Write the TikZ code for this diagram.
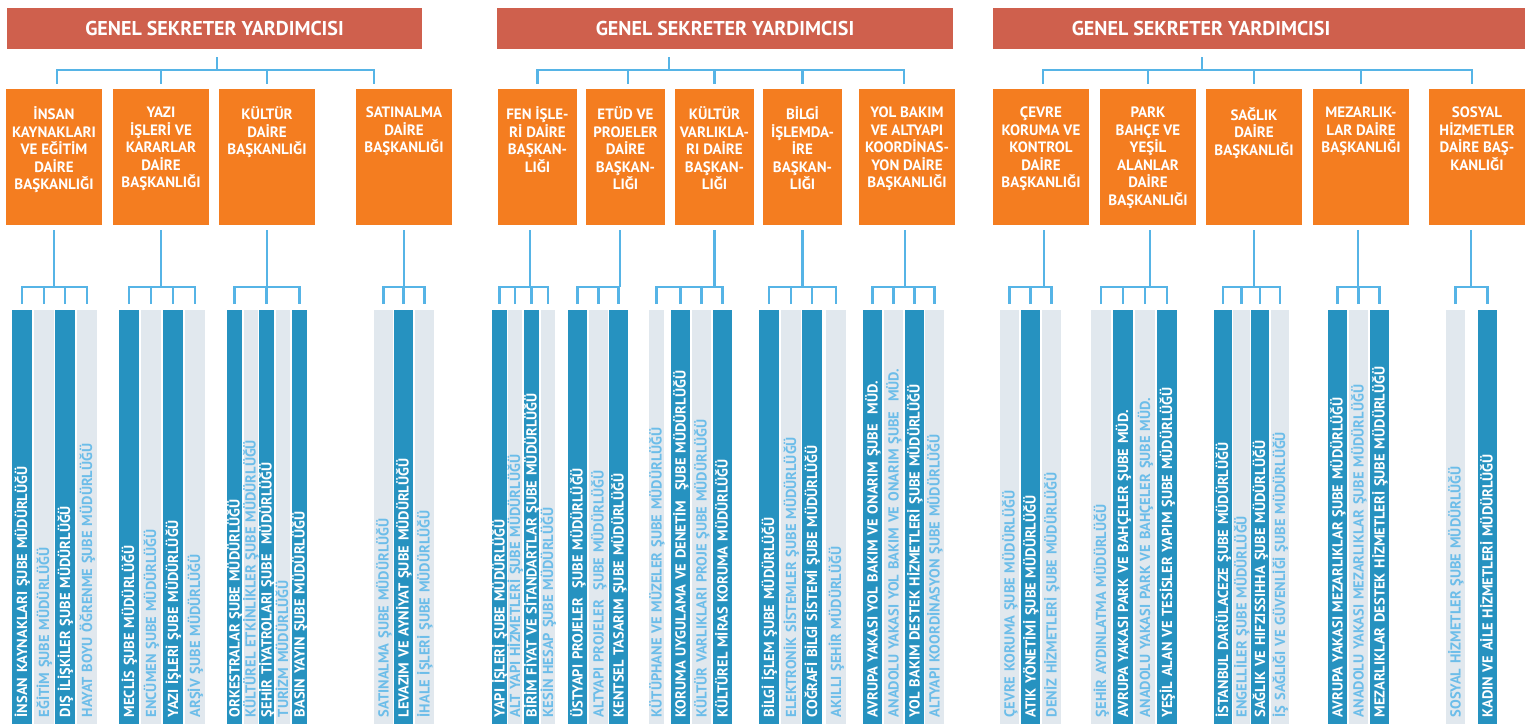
\documentclass[tikz,border=0pt]{standalone}
\usepackage{fontspec}
\setmainfont{PT Sans}
\usetikzlibrary{positioning}

\definecolor{gsykirmizi}{RGB}{207,96,77}
\definecolor{daireturuncu}{RGB}{244,125,32}
\definecolor{cizgimavi}{RGB}{86,180,230}
\definecolor{koyumavi}{RGB}{38,146,192}
\definecolor{acikgri}{RGB}{225,232,238}
\definecolor{acikyazi}{RGB}{108,189,233}

\begin{document}
\begin{tikzpicture}[x=1pt,y=-1pt,
    gsy/.style={fill=gsykirmizi,text=white,minimum height=41pt,inner sep=0pt,
        font=\bfseries\fontsize{20}{22}\selectfont},
    daire/.style={fill=daireturuncu,minimum width=96pt,minimum height=136pt,inner sep=0pt},
    dyazi/.style={text=white,align=center,inner sep=0pt,
        font=\bfseries\fontsize{15}{17.5}\selectfont,
        execute at begin node=\rule{0pt}{13pt}},
    sube/.style={rotate=90,anchor=east,minimum height=20pt,text width=400pt,align=left,
        inner xsep=7pt,inner ysep=0pt,text height=10.2pt,text depth=0pt,
        font=\bfseries\fontsize{14.5}{15}\selectfont},
    koyu/.style={sube,fill=koyumavi,text=white},
    acik/.style={sube,fill=acikgri,text=acikyazi},
    baglanti/.style={draw=cizgimavi,line width=2.5pt}]
\useasboundingbox (0,0) rectangle (1533,724);

% genel sekreter yardimcilari
\node[gsy,minimum width=415pt] (gsy1) at (214.5,28.5) {GENEL SEKRETER YARDIMCISI};
\node[gsy,minimum width=456pt] (gsy2) at (725,28.5) {GENEL SEKRETER YARDIMCISI};
\node[gsy,minimum width=532pt] (gsy3) at (1259,28.5) {};
\node[gsy,fill=none] (gsy3-t) at ([xshift=-58pt]gsy3.center) {GENEL SEKRETER YARDIMCISI};

% daire baskanliklari
\node[daire] (ik) at (54,157) {};
\node[daire] (yazi) at (161,157) {};
\node[daire] (kultur) at (267,157) {};
\node[daire] (sat) at (404,157) {};
\node[daire,minimum width=79pt] (fen) at (537.5,157) {};
\node[daire,minimum width=79pt] (etud) at (625.5,157) {};
\node[daire,minimum width=79pt] (kv) at (714.5,157) {};
\node[daire,minimum width=79pt] (bilgi) at (802.5,157) {};
\node[daire] (yol) at (907,157) {};
\node[daire] (cevre) at (1041,157) {};
\node[daire] (park) at (1148,157) {};
\node[daire] (saglik) at (1254,157) {};
\node[daire] (mezar) at (1361,157) {};
\node[daire] (sosyal) at (1477,157) {};

\node[dyazi,below=18pt of ik.north] (ik-t) {İNSAN\\KAYNAKLARI\\VE EĞİTİM\\DAİRE\\BAŞKANLIĞI};
\node[dyazi,below=18pt of yazi.north] (yazi-t) {YAZI\\İŞLERİ VE\\KARARLAR\\DAİRE\\BAŞKANLIĞI};
\node[dyazi,below=18pt of kultur.north] (kultur-t) {KÜLTÜR\\DAİRE\\BAŞKANLIĞI};
\node[dyazi,below=18pt of sat.north] (sat-t) {SATINALMA\\DAİRE\\BAŞKANLIĞI};
\node[dyazi,below=18pt of fen.north] (fen-t) {FEN İŞLE-\\Rİ DAİRE\\BAŞKAN-\\LIĞI};
\node[dyazi,below=18pt of etud.north] (etud-t) {ETÜD VE\\PROJELER\\DAİRE\\BAŞKAN-\\LIĞI};
\node[dyazi,below=18pt of kv.north] (kv-t) {KÜLTÜR\\VARLIKLA-\\RI DAİRE\\BAŞKAN-\\LIĞI};
\node[dyazi,below=18pt of bilgi.north] (bilgi-t) {BİLGİ\\İŞLEMDA-\\İRE\\BAŞKAN-\\LIĞI};
\node[dyazi,below=18pt of yol.north] (yol-t) {YOL BAKIM\\VE ALTYAPI\\KOORDİNAS-\\YON DAİRE\\BAŞKANLIĞI};
\node[dyazi,below=18pt of cevre.north] (cevre-t) {ÇEVRE\\KORUMA VE\\KONTROL\\DAİRE\\BAŞKANLIĞI};
\node[dyazi,below=18pt of park.north] (park-t) {PARK\\BAHÇE VE\\YEŞİL\\ALANLAR\\DAİRE\\BAŞKANLIĞI};
\node[dyazi,below=18pt of saglik.north] (saglik-t) {SAĞLIK\\DAİRE\\BAŞKANLIĞI};
\node[dyazi,below=18pt of mezar.north] (mezar-t) {MEZARLIK-\\LAR DAİRE\\BAŞKANLIĞI};
\node[dyazi,below=18pt of sosyal.north] (sosyal-t) {SOSYAL\\HİZMETLER\\DAİRE BAŞ-\\KANLIĞI};

% sube mudurlukleri
\node[koyu] (ik1) at (22,310) {İNSAN KAYNAKLARI ŞUBE MÜDÜRLÜĞÜ};
\node[acik] (ik2) at (44,310) {EĞİTİM ŞUBE MÜDÜRLÜĞÜ};
\node[koyu] (ik3) at (65,310) {DIŞ İLİŞKİLER ŞUBE MÜDÜRLÜĞÜ};
\node[acik] (ik4) at (87,310) {HAYAT BOYU ÖĞRENME ŞUBE MÜDÜRLÜĞÜ};

\node[koyu] (yz1) at (129,310) {MECLİS ŞUBE MÜDÜRLÜĞÜ};
\node[acik] (yz2) at (151,310) {ENCÜMEN ŞUBE MÜDÜRLÜĞÜ};
\node[koyu] (yz3) at (173,310) {YAZI İŞLERİ ŞUBE MÜDÜRLÜĞÜ};
\node[acik] (yz4) at (195,310) {ARŞİV ŞUBE MÜDÜRLÜĞÜ};

\node[koyu,minimum height=15pt] (ku1) at (234.5,310) {ORKESTRALAR ŞUBE MÜDÜRLÜĞÜ};
\node[acik,minimum height=14pt] (ku2) at (250.5,310) {KÜLTÜREL ETKİNLİKLER ŞUBE MÜDÜRLÜĞÜ};
\node[koyu,minimum height=15pt] (ku3) at (266.5,310) {ŞEHİR TİYATROLARI ŞUBE~ MÜDÜRLÜĞÜ};
\node[acik,minimum height=14pt] (ku4) at (283,310) {TURİZM MÜDÜRLÜĞÜ};
\node[koyu,minimum height=15pt] (ku5) at (299.5,310) {BASIN YAYIN ŞUBE MÜDÜRLÜĞÜ};

\node[acik,minimum height=19pt] (sa1) at (383.5,310) {SATINALMA ŞUBE MÜDÜRLÜĞÜ};
\node[koyu,minimum height=19pt] (sa2) at (403.5,310) {LEVAZIM VE AYNİYAT ŞUBE MÜDÜRLÜĞÜ};
\node[acik,minimum height=19pt] (sa3) at (424.5,310) {İHALE İŞLERİ ŞUBE MÜDÜRLÜĞÜ};

\node[koyu,minimum height=15pt] (fe1) at (499.5,310) {YAPI İŞLERİ ŞUBE MÜDÜRLÜĞÜ};
\node[acik,minimum height=14pt] (fe2) at (515,310) {ALT YAPI HİZMETLERİ ŞUBE MÜDÜRLÜĞÜ};
\node[koyu,minimum height=15pt] (fe3) at (531.5,310) {BİRİM FİYAT VE SİTANDARTLAR ŞUBE MÜDÜRLÜĞÜ};
\node[acik,minimum height=14pt] (fe4) at (548,310) {KESİN HESAP ŞUBE MÜDÜRLÜĞÜ};

\node[koyu,minimum height=19pt] (et1) at (577.5,310) {ÜSTYAPI PROJELER~ ŞUBE MÜDÜRLÜĞÜ};
\node[acik,minimum height=19pt] (et2) at (598.5,310) {ALTYAPI PROJELER~ ŞUBE MÜDÜRLÜĞÜ};
\node[koyu,minimum height=19pt] (et3) at (618.5,310) {KENTSEL TASARIM ŞUBE MÜDÜRLÜĞÜ};

\node[acik,minimum height=15pt] (kv1) at (656.5,310) {KÜTÜPHANE VE MÜZELER ŞUBE MÜDÜRLÜĞÜ};
\node[koyu,minimum height=19pt] (kv2) at (680.5,310) {KORUMA UYGULAMA VE DENETİM~ ŞUBE MÜDÜRLÜĞÜ};
\node[acik,minimum height=19pt] (kv3) at (701.5,310) {KÜLTÜR VARLIKLARI PROJE ŞUBE MÜDÜRLÜĞÜ};
\node[koyu,minimum height=19pt] (kv4) at (722.5,310) {KÜLTÜREL MİRAS KORUMA MÜDÜRLÜĞÜ};

\node[koyu] (bi1) at (769,310) {BİLGİ İŞLEM ŞUBE MÜDÜRLÜĞÜ};
\node[acik] (bi2) at (791,310) {ELEKTRONİK SİSTEMLER ŞUBE MÜDÜRLÜĞÜ};
\node[koyu] (bi3) at (812,310) {COĞRAFİ BİLGİ SİSTEMİ ŞUBE MÜDÜRLÜĞÜ};
\node[acik] (bi4) at (836,310) {AKILLI ŞEHİR MÜDÜRLÜĞÜ};

\node[koyu,minimum height=19pt] (yo1) at (872.5,310) {AVRUPA YAKASI YOL BAKIM VE ONARIM ŞUBE~ MÜD.};
\node[acik,minimum height=19pt] (yo2) at (893.5,310) {ANADOLU YAKASI YOL BAKIM VE ONARIM ŞUBE~ MÜD.};
\node[koyu,minimum height=19pt] (yo3) at (914.5,310) {YOL BAKIM DESTEK HİZMETLERİ ŞUBE MÜDÜRLÜĞÜ};
\node[acik,minimum height=19pt] (yo4) at (934.5,310) {ALTYAPI KOORDİNASYON ŞUBE MÜDÜRLÜĞÜ};

\node[acik,minimum height=19pt] (ce1) at (1009.5,310) {ÇEVRE KORUMA ŞUBE MÜDÜRLÜĞÜ};
\node[koyu,minimum height=19pt] (ce2) at (1030.5,310) {ATIK YÖNETİMİ ŞUBE MÜDÜRLÜĞÜ};
\node[acik,minimum height=19pt] (ce3) at (1051.5,310) {DENİZ HİZMETLERİ ŞUBE MÜDÜRLÜĞÜ};

\node[acik] (pa1) at (1101,310) {ŞEHİR AYDINLATMA MÜDÜRLÜĞÜ};
\node[koyu] (pa2) at (1123,310) {AVRUPA YAKASI PARK VE BAHÇELER ŞUBE MÜD.};
\node[acik] (pa3) at (1145,310) {ANADOLU YAKASI PARK VE BAHÇELER ŞUBE MÜD.};
\node[koyu] (pa4) at (1167,310) {YEŞİL ALAN VE TESİSLER YAPIM ŞUBE MÜDÜRLÜĞÜ};

\node[koyu,minimum height=18pt] (sg1) at (1223,310) {İSTANBUL DARÜLACEZE ŞUBE MÜDÜRLÜĞÜ};
\node[acik,minimum height=17pt] (sg2) at (1241.5,310) {ENGELLİLER ŞUBE MÜDÜRLÜĞÜ};
\node[koyu,minimum height=18pt] (sg3) at (1260,310) {SAĞLIK VE HIFZISSIHHA ŞUBE MÜDÜRLÜĞÜ};
\node[acik,minimum height=18pt] (sg4) at (1280,310) {İŞ SAĞLIĞI VE GÜVENLİĞİ ŞUBE MÜDÜRLÜĞÜ};

\node[koyu,minimum height=19pt] (me1) at (1337.5,310) {AVRUPA YAKASI MEZARLIKLAR ŞUBE MÜDÜRLÜĞÜ};
\node[acik,minimum height=19pt] (me2) at (1358.5,310) {ANADOLU YAKASI MEZARLIKLAR ŞUBE MÜDÜRLÜĞÜ};
\node[koyu,minimum height=19pt] (me3) at (1379.5,310) {MEZARLIKLAR DESTEK HİZMETLERİ ŞUBE MÜDÜRLÜĞÜ};

\node[acik,minimum height=19pt] (so1) at (1455.5,310) {SOSYAL HİZMETLER ŞUBE MÜDÜRLÜĞÜ};
\node[koyu,minimum height=19pt] (so2) at (1487.5,310) {KADIN VE AİLE HİZMETLERİ MÜDÜRLÜĞÜ};

% ust baglantilar
\draw[baglanti] ([xshift=2.5pt,yshift=-8pt]gsy1.south) -- ++(0,13);
\draw[baglanti] ([xshift=3pt,yshift=5pt]ik.north) |- ([xshift=-30pt,yshift=19pt]sat.north) -- ([xshift=-30pt,yshift=5pt]sat.north);
\draw[baglanti] ([yshift=5pt]yazi.north) -- ++(0,-14);
\draw[baglanti] ([yshift=5pt]kultur.north) -- ++(0,-14);

\draw[baglanti] ([xshift=-56pt,yshift=-8pt]gsy2.south) -- ++(0,13);
\draw[baglanti] ([yshift=5pt]fen.north) |- ([xshift=-3pt,yshift=19pt]yol.north) -- ([xshift=-3pt,yshift=5pt]yol.north);
\draw[baglanti] ([xshift=2.5pt,yshift=5pt]etud.north) -- ++(0,-14);
\draw[baglanti] ([yshift=5pt]kv.north) -- ++(0,-14);
\draw[baglanti] ([yshift=5pt]bilgi.north) -- ++(0,-14);

\draw[baglanti] ([xshift=-57pt,yshift=-8pt]gsy3.south) -- ++(0,13);
\draw[baglanti] ([xshift=2pt,yshift=5pt]cevre.north) |- ([xshift=-5pt,yshift=19pt]sosyal.north) -- ([xshift=-5pt,yshift=5pt]sosyal.north);
\draw[baglanti] ([yshift=5pt]park.north) -- ++(0,-14);
\draw[baglanti] ([yshift=5pt]saglik.north) -- ++(0,-14);
\draw[baglanti] ([yshift=5pt]mezar.north) -- ++(0,-14);

% alt baglantilar
\draw[baglanti] ([yshift=-5pt]ik.south) -- ++(0,57);
\draw[baglanti] ([yshift=6pt]ik1.east) |- ([yshift=23pt]ik4.east) -- ([yshift=6pt]ik4.east);
\draw[baglanti] ([yshift=6pt]ik2.east) -- ++(0,-17);
\draw[baglanti] ([yshift=6pt]ik3.east) -- ++(0,-17);

\draw[baglanti] ([yshift=-5pt]yazi.south) -- ++(0,57);
\draw[baglanti] ([yshift=6pt]yz1.east) |- ([yshift=23pt]yz4.east) -- ([yshift=6pt]yz4.east);
\draw[baglanti] ([yshift=6pt]yz2.east) -- ++(0,-17);
\draw[baglanti] ([yshift=6pt]yz3.east) -- ++(0,-17);

\draw[baglanti] ([yshift=-5pt]kultur.south) -- ++(0,57);
\draw[baglanti] ([yshift=6pt]ku1.east) |- ([yshift=23pt]ku5.east) -- ([yshift=6pt]ku5.east);
\draw[baglanti] ([yshift=6pt]ku3.east) -- ++(0,-17);

\draw[baglanti] ([yshift=-5pt]sat.south) -- ++(0,57);
\draw[baglanti] ([yshift=6pt]sa1.east) |- ([yshift=23pt]sa3.east) -- ([yshift=6pt]sa3.east);
\draw[baglanti] ([yshift=6pt]sa2.east) -- ++(0,-17);

\draw[baglanti] ([xshift=-7.5pt,yshift=-5pt]fen.south) -- ++(0,57);
\draw[baglanti] ([yshift=6pt]fe1.east) |- ([yshift=23pt]fe4.east) -- ([yshift=6pt]fe4.east);
\draw[baglanti] ([yshift=6pt]fe2.east) -- ++(0,-17);
\draw[baglanti] ([yshift=6pt]fe3.east) -- ++(0,-17);

\draw[baglanti] ([xshift=-5.5pt,yshift=-5pt]etud.south) -- ++(0,57);
\draw[baglanti] ([yshift=6pt]et1.east) |- ([yshift=23pt]et3.east) -- ([yshift=6pt]et3.east);
\draw[baglanti] ([yshift=6pt]et2.east) -- ++(0,-17);

\draw[baglanti] ([yshift=-5pt]kv.south) -- ++(0,57);
\draw[baglanti] ([yshift=6pt]kv1.east) |- ([yshift=23pt]kv4.east) -- ([yshift=6pt]kv4.east);
\draw[baglanti] ([yshift=6pt]kv2.east) -- ++(0,-17);
\draw[baglanti] ([yshift=6pt]kv3.east) -- ++(0,-17);

\draw[baglanti] ([yshift=-5pt]bilgi.south) -- ++(0,57);
\draw[baglanti] ([yshift=6pt]bi1.east) |- ([yshift=23pt]bi4.east) -- ([yshift=6pt]bi4.east);
\draw[baglanti] ([yshift=6pt]bi2.east) -- ++(0,-17);
\draw[baglanti] ([yshift=6pt]bi3.east) -- ++(0,-17);

\draw[baglanti] ([xshift=-2pt,yshift=-5pt]yol.south) -- ++(0,57);
\draw[baglanti] ([yshift=6pt]yo1.east) |- ([yshift=23pt]yo4.east) -- ([yshift=6pt]yo4.east);
\draw[baglanti] ([yshift=6pt]yo2.east) -- ++(0,-17);
\draw[baglanti] ([yshift=6pt]yo3.east) -- ++(0,-17);

\draw[baglanti] ([xshift=3pt,yshift=-5pt]cevre.south) -- ++(0,57);
\draw[baglanti] ([yshift=6pt]ce1.east) |- ([yshift=23pt]ce3.east) -- ([yshift=6pt]ce3.east);
\draw[baglanti] ([yshift=6pt]ce2.east) -- ++(0,-17);

\draw[baglanti] ([xshift=2pt,yshift=-5pt]park.south) -- ++(0,57);
\draw[baglanti] ([yshift=6pt]pa1.east) |- ([yshift=23pt]pa4.east) -- ([yshift=6pt]pa4.east);
\draw[baglanti] ([yshift=6pt]pa2.east) -- ++(0,-17);
\draw[baglanti] ([yshift=6pt]pa3.east) -- ++(0,-17);

\draw[baglanti] ([yshift=-5pt]saglik.south) -- ++(0,57);
\draw[baglanti] ([yshift=6pt]sg1.east) |- ([yshift=23pt]sg4.east) -- ([yshift=6pt]sg4.east);
\draw[baglanti] ([yshift=6pt]sg2.east) -- ++(0,-17);
\draw[baglanti] ([yshift=6pt]sg3.east) -- ++(0,-17);

\draw[baglanti] ([xshift=-3pt,yshift=-5pt]mezar.south) -- ++(0,57);
\draw[baglanti] ([yshift=6pt]me1.east) |- ([yshift=23pt]me3.east) -- ([yshift=6pt]me3.east);
\draw[baglanti] ([yshift=6pt]me2.east) -- ++(0,-17);

\draw[baglanti] ([xshift=-6pt,yshift=-5pt]sosyal.south) -- ++(0,57);
\draw[baglanti] ([yshift=6pt]so1.east) |- ([yshift=23pt]so2.east) -- ([yshift=6pt]so2.east);
\end{tikzpicture}
\end{document}
